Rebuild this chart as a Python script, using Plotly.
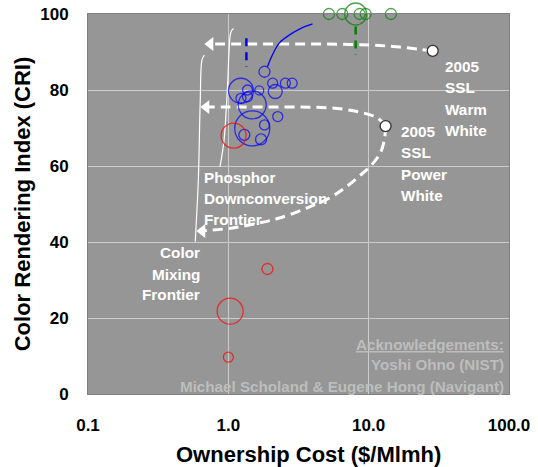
import math
import plotly.graph_objects as go

# ---------------- data ----------------
# Blue bubbles (phosphor-converted white products)
blue_cost = [1.81, 1.23, 1.37, 1.66, 2.07, 2.16, 2.55, 2.85, 1.23, 1.37, 1.48, 2.25, 1.48, 1.81, 1.30, 1.71]
blue_cri = [84.8, 79.8, 80.0, 79.9, 81.8, 79.6, 81.8, 81.8, 77.8, 78.2, 76.1, 73.0, 69.9, 70.8, 68.2, 67.0]
blue_bubble = [11, 25, 10, 9, 10, 14, 10, 10, 10, 10, 28, 10, 35, 10, 11, 11]

# Red bubbles
red_cost = [1.09, 1.90, 1.03, 1.00]
red_cri = [68.0, 32.9, 21.8, 9.7]
red_bubble = [25, 11, 26, 10]

# Green bubbles (CRI 100)
green_cost = [5.21, 6.49, 8.08, 8.62, 9.52, 14.4]
green_cri = [100, 100, 100, 100, 100, 100]
green_bubble = [11, 11, 22, 11, 11, 11]

# Range markers (dashed verticals)
green_range_cost = [8.08, 8.08]
green_range_cri = [96.7, 89.2]
blue_range_cost = [1.345, 1.345]
blue_range_cri = [93.6, 86.1]

# Blue trend curve
blue_curve_cost = [1.90, 2.06, 2.31, 2.73, 3.32, 3.98]
blue_curve_cri = [86.1, 89.2, 92.4, 94.5, 96.3, 97.4]

# Frontiers
phosphor_cost = [1.09, 1.05, 1.028, 0.984, 0.932, 0.872]
phosphor_cri = [96.2, 95.5, 94.0, 80.0, 66.8, 59.8]
mixing_cost = [0.674, 0.649, 0.631, 0.611, 0.581]
mixing_cri = [89.2, 87.9, 77.4, 56.3, 40.1]

# 2005 SSL reference points
ssl_cost = [28.6, 13.2]
ssl_cri = [90.3, 70.5]

# Projection arrows
warm_arrow_cost = [28.6, 23.1, 16.6, 12.0, 7.31, 3.21, 0.744]
warm_arrow_cri = [90.3, 90.7, 91.3, 91.7, 92.0, 92.1, 92.1]
power_up_cost = [13.2, 11.6, 8.62, 5.27, 2.31, 0.696]
power_up_cri = [70.5, 72.6, 74.2, 75.3, 75.5, 75.5]
power_down_cost = [13.2, 13.0, 12.2, 10.5, 8.62, 6.74, 5.27, 3.61, 2.31, 1.66, 1.07, 0.652]
power_down_cri = [70.5, 67.4, 63.7, 60.3, 57.4, 54.2, 51.6, 48.9, 46.3, 45.0, 43.7, 42.9]

x_tick_vals = [0.1, 1, 10, 100]
x_tick_text = ["0.1", "1.0", "10.0", "100.0"]
y_tick_vals = [0, 20, 40, 60, 80, 100]

# ---------------- figure ----------------
FONT = "Liberation Sans, Arial, sans-serif"
W, H = 538, 467
ML, MR, MT, MB = 88, 29, 14, 73

fig = go.Figure()

def line_trace(x, y, color, width, dash=None, shape="linear"):
    fig.add_trace(go.Scatter(x=x, y=y, mode="lines", cliponaxis=False,
                             line=dict(color=color, width=width, dash=dash, shape=shape),
                             hoverinfo="skip", showlegend=False))

# frontiers
line_trace(phosphor_cost, phosphor_cri, "white", 1.2, shape="spline")
line_trace(mixing_cost, mixing_cri, "white", 1.2, shape="spline")

# arrows
for xs, ys in [(warm_arrow_cost, warm_arrow_cri), (power_up_cost, power_up_cri),
               (power_down_cost, power_down_cri)]:
    fig.add_trace(go.Scatter(x=xs, y=ys, mode="lines", cliponaxis=False,
                             line=dict(color="white", width=3, dash="10px,6px", shape="spline"),
                             hoverinfo="skip", showlegend=False))
    fig.add_trace(go.Scatter(x=[xs[-1]], y=[ys[-1]], mode="markers", cliponaxis=False,
                             marker=dict(symbol="triangle-left", size=12, color="white",
                                         line=dict(width=0)),
                             hoverinfo="skip", showlegend=False))

def bubbles(x, y, s, color):
    fig.add_trace(go.Scatter(x=x, y=y, mode="markers", cliponaxis=False,
                             marker=dict(size=s, sizemode="diameter", color="rgba(0,0,0,0)",
                                         line=dict(color=color, width=1.3)),
                             showlegend=False))

bubbles(blue_cost, blue_cri, blue_bubble, "#0000ff")
bubbles(red_cost, red_cri, red_bubble, "#ff0000")
bubbles(green_cost, green_cri, green_bubble, "#008000")

line_trace(green_range_cost, green_range_cri, "#008000", 2.5, dash="8px,6px")
line_trace(blue_range_cost, blue_range_cri, "#0000ff", 2.5, dash="8px,6px")
line_trace(blue_curve_cost, blue_curve_cri, "#0000ff", 1.3, shape="spline")

fig.add_trace(go.Scatter(x=ssl_cost, y=ssl_cri, mode="markers", cliponaxis=False,
                         marker=dict(size=11, color="white", line=dict(color="#333333", width=1.3)),
                         showlegend=False))

# ---------------- text ----------------
PW, PH = W - ML - MR, H - MT - MB
def px2paper(px, py):
    return (px - ML) / PW, (H - MB - py) / PH

def text_lines(lines, px, ys, anchor, color="white", size=15.3, deco=None):
    for i, (t, py) in enumerate(zip(lines, ys)):
        xp, yp = px2paper(px, py)
        txt = t
        if deco and i in deco:
            txt = "<u>" + t + "</u>"
        fig.add_annotation(x=xp, y=yp, xref="paper", yref="paper", text="<b>" + txt + "</b>",
                           showarrow=False, xanchor=anchor, yanchor="middle",
                           font=dict(family=FONT, size=size, color=color))

text_lines(["2005", "SSL", "Warm", "White"], 443, [66, 87.5, 109, 130], "left")
text_lines(["2005", "SSL", "Power", "White"], 399, [131, 152.5, 174, 195], "left")
text_lines(["Phosphor", "Downconversion", "Frontier"], 202, [177, 198.5, 219], "left")
text_lines(["Color", "Mixing", "Frontier"], 202, [252.5, 274, 294.5], "right")
text_lines(["Acknowledgements:", "Yoshi Ohno (NIST)", "Michael Scholand & Eugene Hong (Navigant)"],
           506, [344, 364, 386], "right", color="#bdbdbd", size=15.2, deco={0})

# x-axis title (placed to match the reference's offset)
tx, ty = px2paper(308, 454)
fig.add_annotation(x=tx, y=ty, xref="paper", yref="paper", text="<b>Ownership Cost ($/Mlmh)</b>",
                   showarrow=False, xanchor="center", yanchor="middle",
                   font=dict(family=FONT, size=22, color="black"))

fig.update_layout(
    width=W, height=H,
    margin=dict(l=ML, r=MR, t=MT, b=MB, autoexpand=False),
    paper_bgcolor="white", plot_bgcolor="#969696",
    font=dict(family=FONT, color="black"),
    showlegend=False,
)
fig.update_xaxes(type="log", range=[-1, 2], tickvals=x_tick_vals, ticktext=x_tick_text,
                 showgrid=True, gridcolor="#cccccc", gridwidth=1, zeroline=False,
                 showline=True, linecolor="#808080", linewidth=1, mirror=True,
                 ticks="", ticklabelstandoff=16,
                 tickfont=dict(family=FONT, size=17, color="black", weight="bold"))
fig.update_yaxes(range=[0, 100], tickvals=y_tick_vals,
                 showgrid=True, gridcolor="#cccccc", gridwidth=1, zeroline=False,
                 showline=True, linecolor="#808080", linewidth=1, mirror=True,
                 ticks="", ticklabelstandoff=15,
                 tickfont=dict(family=FONT, size=17, color="black", weight="bold"),
                 title=dict(text="<b>Color Rendering Index (CRI)</b>", standoff=3,
                            font=dict(family=FONT, size=22, color="black")))

fig.write_html("out.html", config={"displayModeBar": False},
               post_script="document.body.style.margin='0';")
